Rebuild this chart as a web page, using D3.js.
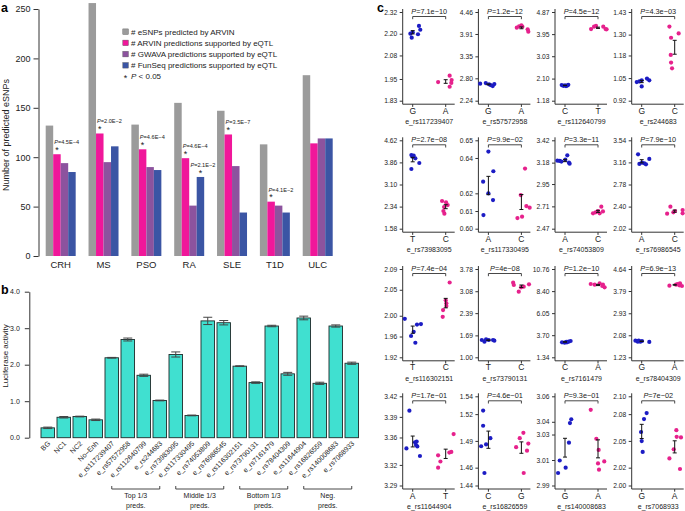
<!DOCTYPE html>
<html><head><meta charset="utf-8">
<script src="https://cdn.jsdelivr.net/npm/d3@7"></script>
<style>
body{margin:0;background:#fff;}
svg{display:block;font-family:"Liberation Sans",Arial,Helvetica,sans-serif;}
</style></head><body>
<svg id="chart" width="685" height="511"></svg>
<script>
// ---------------- Panel a data ----------------
const aGroups = ["CRH","MS","PSO","RA","SLE","T1D","ULC"];
const aSeriesNames = ["# eSNPs predicted by ARVIN","# ARVIN predictions supported by eQTL","# GWAVA predictions supported by eQTL","# FunSeq predictions supported by eQTL"];
const aArvinPred  = [132,256,133,155,147,113,183];
const aArvinEqtl  = [103,124,108, 99,123, 55,114];
const aGwavaEqtl  = [ 94, 95, 90, 51, 91, 51,119];
const aFunseqEqtl = [ 85,111, 87, 80, 44, 44,119];
const aYTicks = [0,50,100,150,200,250];
const aSignif = [
  {group:"CRH", series:1, p:"4.5E\u22124"},
  {group:"MS",  series:1, p:"2.0E\u22122"},
  {group:"PSO", series:1, p:"4.6E\u22124"},
  {group:"RA",  series:1, p:"4.6E\u22124"},
  {group:"RA",  series:3, p:"2.1E\u22122"},
  {group:"SLE", series:1, p:"3.5E\u22127"},
  {group:"T1D", series:1, p:"4.1E\u22122"}
];

// ---------------- Panel b data ----------------
const bLabels = ["BG","NC1","NC2","No\u2013Enh","e_rs117239407","e_rs57572958","e_rs112640799","e_rs244683",
  "e_rs73983095","e_rs117330495","e_rs74053809","e_rs76986545","e_rs116302151","e_rs73790131","e_rs7161479",
  "e_rs78404309","e_rs11644904","e_rs16826559","e_rs140008683","e_rs7068933"];
const bMeans  = [0.27,0.56,0.58,0.49,2.19,2.69,1.71,1.02,2.28,0.61,3.20,3.15,1.96,1.51,3.06,1.75,3.28,1.49,3.06,2.04];
const bErrors = [0.02,0.02,0.01,0.02,0.01,0.04,0.03,0.01,0.07,0.01,0.10,0.06,0.01,0.02,0.02,0.04,0.05,0.03,0.03,0.03];
const bYTicks = [0,1,2,3,4];
const bGroups = [
  {lines:["Top 1/3","preds."],    from:"e_rs117239407", to:"e_rs244683"},
  {lines:["Middle 1/3","preds."], from:"e_rs73983095",  to:"e_rs76986545"},
  {lines:["Bottom 1/3","preds."], from:"e_rs116302151", to:"e_rs78404309"},
  {lines:["Neg.","preds."],       from:"e_rs11644904",  to:"e_rs7068933"}
];

// ---------------- Panel c data ----------------
const cSnps = ["e_rs117239407","e_rs57572958","e_rs112640799","e_rs244683","e_rs73983095","e_rs117330495",
  "e_rs74053809","e_rs76986545","e_rs116302151","e_rs73790131","e_rs7161479","e_rs78404309",
  "e_rs11644904","e_rs16826559","e_rs140008683","e_rs7068933"];
const cAlleles = [["G","A"],["G","A"],["C","T"],["G","C"],["T","C"],["A","C"],["A","C"],["A","C"],
  ["T","C"],["T","C"],["C","A"],["G","A"],["A","T"],["C","G"],["G","A"],["G","A"]];
const cPvals = ["7.1e\u221210","1.2e\u221212","4.5e\u221212","4.3e\u221203","2.7e\u221208","9.9e\u221202",
  "3.3e\u221211","7.9e\u221210","7.4e\u221204","4e\u221208","1.2e\u221210","6.9e\u221213",
  "1.7e\u221201","4.6e\u221201","9.3e\u221201","7e\u221202"];
const cTicks = [
  [1.83,1.95,2.08,2.20,2.32],[2.24,2.80,3.35,3.91,4.46],[1.18,2.10,3.03,3.95,4.87],[0.92,1.05,1.18,1.30,1.43],
  [1.58,2.34,3.10,3.86,4.62],[0.60,0.61,0.62,0.64,0.65],[2.47,2.71,2.95,3.18,3.42],[2.02,2.40,2.78,3.16,3.54],
  [1.92,1.96,2.00,2.05,2.09],[1.00,1.69,2.39,3.08,3.78],[1.34,3.70,6.05,8.40,10.76],[1.23,2.08,2.93,3.79,4.64],
  [3.29,3.32,3.36,3.39,3.42],[1.44,1.46,1.49,1.52,1.54],[2.99,3.01,3.03,3.04,3.06],[2.00,2.02,2.05,2.08,2.10]
];
// first-allele values and x-jitter (fraction of allele spacing)
const cRefVals = [
  [2.200,2.178,2.208,2.197,2.243,2.222],
  [2.666,2.682,2.649,2.632,2.607,2.655],
  [1.83,1.80,1.82,1.79,1.81,1.84],
  [1.027,1.031,1.037,1.002,1.047,1.037],
  [4.115,4.058,4.092,4.000,3.840,3.633],
  [0.6436,0.6325,0.6266,0.6200,0.6162,0.6077],
  [3.201,3.198,3.191,3.212,3.259,3.180,3.169],
  [3.299,3.133,3.156,3.144,3.127,3.219],
  [1.994,1.961,1.969,1.948,1.983,1.984],
  [1.545,1.493,1.567,1.545,1.545,1.524],
  [2.94,2.90,2.94,3.01,3.08,3.00],
  [1.873,1.835,1.835,1.860,1.822,1.873],
  [3.344,3.399,3.353,3.354,3.347,3.333,3.349],
  [1.524,1.507,1.484,1.486,1.493,1.454],
  [2.9998,3.0096,3.0040,3.0236,3.0390,3.0420],
  [2.0745,2.0812,2.0600,2.0498,2.0376]
];
const cRefJitter = [
  [-0.07,-0.03,0,0.16,0.19,0.23],
  [-0.25,-0.08,0.02,0.07,0.13,0.18],
  [-0.1,-0.05,0,0.03,0.07,0.1],
  [-0.15,-0.07,0,0,0.16,0.23],
  [-0.04,-0.01,0.03,0.08,0.2,-0.04],
  [0,0.15,-0.16,0,0.14,-0.15],
  [-0.23,-0.16,-0.11,0.01,0.07,0.12,0.14],
  [-0.11,-0.07,0.01,0.08,0.13,0.23],
  [-0.24,-0.05,0.03,0.08,0.13,0.25],
  [-0.2,-0.12,-0.07,0.01,0.14,0.18],
  [-0.09,-0.01,0.06,0.11,0.17,0.04],
  [-0.19,-0.12,-0.04,0.01,0.23,-0.09],
  [-0.19,-0.1,0.07,0.12,0.14,0.22,0.1],
  [-0.16,-0.16,-0.22,-0.07,0.06,-0.12],
  [-0.21,-0.16,0.02,0.12,0.15,0.19],
  [0.07,0.15,-0.02,0,0.03]
];
// second-allele values and x-jitter
const cAltVals = [
  [1.933,1.968,1.944,1.928,1.907],
  [4.068,4.101,4.126,4.093,4.026,3.968],
  [4.16,4.26,4.29,4.26,4.16,4.15],
  [1.346,1.282,1.183,1.139,1.106,1.307],
  [2.532,2.486,2.394,2.326,2.188,2.096],
  [0.634,0.619,0.6128,0.6119,0.606,0.6068],
  [2.635,2.646,2.660,2.635,2.707,2.656],
  [2.278,2.399,2.301,2.324,2.341,2.284],
  [1.998,2.011,2.030,2.024,2.019,2.064],
  [3.350,3.276,3.067,3.203,3.224,3.297],
  [9.16,9.09,9.23,9.09,8.80,8.95],
  [3.997,4.035,4.061,4.010,4.087,3.984],
  [3.334,3.325,3.316,3.338,3.339,3.365],
  [1.493,1.499,1.483,1.479,1.487,1.454],
  [3.0494,3.0267,3.0179,3.0073,3.0024,3.0089],
  [2.0303,2.0406,2.0620,2.0546,2.0185,2.0539]
];
const cAltJitter = [
  [-0.23,0.12,0.18,0.17,0.12],
  [-0.14,-0.07,0,0.03,0.19,0.21],
  [-0.21,-0.12,-0.06,0.16,0.23,0.26],
  [-0.16,-0.11,-0.12,-0.11,-0.08,0.12],
  [-0.11,0.01,0.06,-0.05,-0.07,-0.04],
  [0.11,-0.02,0.15,0.25,-0.12,0.02],
  [-0.15,-0.07,0,0.05,0.1,0.15],
  [-0.23,-0.13,-0.04,0.01,0.24,0.24],
  [-0.09,-0.08,0,0.02,0.02,0.12],
  [-0.25,-0.23,-0.08,-0.01,0.07,0.23],
  [-0.22,-0.1,0.05,0.15,0.2,0.13],
  [-0.16,0.04,0.09,0.14,0.16,0.22],
  [-0.23,-0.16,-0.23,0.11,0.17,0.24],
  [-0.05,0.06,-0.16,0.17,0.21,0.07],
  [-0.22,-0.05,0.02,0,0.03,0.19],
  [-0.16,-0.03,0.05,0.06,0.16,0.19]
];

// ---------------- styles ----------------
const aColors = ["#9b9b9b","#f0179a","#8c539e","#3b55a4"];
const bFill = "#40e0d0";
const cColors = ["#1c1cc4","#e6218c"];
const axisColor = "#333";
const textColor = "#222";

const svg = d3.select("#chart");

function styleAxis(g, fs){
  g.selectAll(".domain").attr("stroke", axisColor);
  g.selectAll(".tick line").attr("stroke", axisColor);
  g.selectAll(".tick text").attr("fill", textColor).style("font-size", fs+"px")
    .style("font-family","'Liberation Sans',Arial,sans-serif");
}

// ================= Panel a =================
const ga = svg.append("g");
const ax = d3.scaleBand().domain(aGroups).range([45.7, 332.7]).paddingInner(0.3).paddingOuter(0);
const axIn = d3.scaleBand().domain(d3.range(4)).range([0, ax.bandwidth()]);
const ay = d3.scaleLinear().domain([0,250]).range([256, 9]);
const aData = [aArvinPred, aArvinEqtl, aGwavaEqtl, aFunseqEqtl];

aGroups.forEach((g, gi) => {
  aData.forEach((s, si) => {
    ga.append("rect")
      .attr("x", ax(g) + axIn(si)).attr("y", ay(s[gi]))
      .attr("width", axIn.bandwidth()).attr("height", ay(0) - ay(s[gi]))
      .attr("fill", aColors[si]);
  });
  ga.append("text").attr("x", ax(g) + ax.bandwidth()/2).attr("y", 267.5)
    .attr("text-anchor","middle").attr("fill", textColor).style("font-size","9.5px").text(g);
});

const aAxisG = ga.append("g").attr("transform","translate(38.5,0)")
  .call(d3.axisLeft(ay).tickValues(aYTicks).tickSize(5).tickSizeOuter(0).tickPadding(3));
styleAxis(aAxisG, 9);

ga.append("text").attr("transform","translate(9,135) rotate(-90)").attr("text-anchor","middle")
  .attr("fill", textColor).style("font-size","9px").text("Number of predicted eSNPs");

// significance annotations
aSignif.forEach(d => {
  const gi = aGroups.indexOf(d.group);
  const v = aData[d.series][gi];
  const bx0 = ax(d.group) + axIn(d.series);
  const cx = bx0 + axIn.bandwidth()/2;
  const top = ay(v);
  ga.append("text").attr("x", cx).attr("y", top - 5.5 + 4.3).attr("text-anchor","middle")
    .attr("fill", textColor).style("font-size","9px").text("*");
  const lx = d.series === 1 ? bx0 + 1 : cx - 10;
  const t = ga.append("text").attr("x", lx).attr("y", top - 12 + 2)
    .attr("fill", textColor).style("font-size","5.6px");
  t.append("tspan").style("font-style","italic").text("P");
  t.append("tspan").text("=" + d.p);
});

// legend
const legY0 = 31.7, legStep = 11.2;
aSeriesNames.forEach((n, i) => {
  const y = legY0 + i*legStep;
  ga.append("rect").attr("x", 122.8).attr("y", y - 2.8).attr("width", 5.6).attr("height", 5.6)
    .attr("fill", aColors[i]).attr("stroke","#555").attr("stroke-width",0.4);
  ga.append("text").attr("x", 131).attr("y", y + 2.8).attr("fill", textColor)
    .style("font-size","8px").text(n);
});
{
  const y = legY0 + 4*legStep;
  ga.append("text").attr("x", 125.6).attr("y", y + 4.3).attr("text-anchor","middle")
    .attr("fill", textColor).style("font-size","9px").text("*");
  const t = ga.append("text").attr("x", 131).attr("y", y + 2.8).attr("fill", textColor).style("font-size","8px");
  t.append("tspan").style("font-style","italic").text("P");
  t.append("tspan").text(" < 0.05");
}

// ================= Panel b =================
const gb = svg.append("g");
const bx = d3.scaleBand().domain(bLabels).range([41, 358.5]).paddingInner(0.156).paddingOuter(0);
const by = d3.scaleLinear().domain([0,4]).range([437.7, 291.7]);

bLabels.forEach((l, i) => {
  gb.append("rect").attr("x", bx(l)).attr("y", by(bMeans[i]))
    .attr("width", bx.bandwidth()).attr("height", by(0) - by(bMeans[i]))
    .attr("fill", bFill).attr("stroke","#1d2b2a").attr("stroke-width",0.9);
});
bLabels.forEach((l, i) => {
  const cx = bx(l) + bx.bandwidth()/2;
  const y1 = by(bMeans[i] - bErrors[i]), y2 = by(bMeans[i] + bErrors[i]);
  gb.append("line").attr("x1", cx).attr("x2", cx).attr("y1", y1).attr("y2", y2)
    .attr("stroke","#444").attr("stroke-width",1);
  [y1, y2].forEach(yy => gb.append("line").attr("x1", cx - 4.5).attr("x2", cx + 4.5)
    .attr("y1", yy).attr("y2", yy).attr("stroke","#444").attr("stroke-width",1));
  gb.append("text").attr("transform", `translate(${cx + 3},${444}) rotate(-45)`)
    .attr("text-anchor","end").attr("fill", textColor).style("font-size","7px").text(l);
});

const bAxisG = gb.append("g").attr("transform","translate(29.3,0)")
  .call(d3.axisLeft(by).tickValues(bYTicks).tickSize(4.5).tickSizeOuter(0).tickPadding(5));
styleAxis(bAxisG, 7);

gb.append("text").attr("transform","translate(8,356) rotate(-90)").attr("text-anchor","middle")
  .attr("fill", textColor).style("font-size","8px").text("Luciferase activity");

bGroups.forEach(g => {
  const x1 = bx(g.from) + bx.bandwidth()/2, x2 = bx(g.to) + bx.bandwidth()/2;
  const yb = 489;
  gb.append("path").attr("d", `M${x1},${yb-3}V${yb}H${x2}V${yb-3}`)
    .attr("fill","none").attr("stroke", axisColor).attr("stroke-width",0.9);
  g.lines.forEach((ln, k) => {
    gb.append("text").attr("x", (x1 + x2)/2).attr("y", 498.2 + k*10.1).attr("text-anchor","middle")
      .attr("fill", textColor).style("font-size","7px").text(ln);
  });
});

// ================= Panel c =================
const gc = svg.append("g");
const cRowTop = [12, 140.3, 269, 396.3];
const cRowBot = [100.7, 228.7, 357.3, 485.5];
const cColAxis = [402.7, 478.4, 555, 631.7];

cSnps.forEach((snp, i) => {
  const r = Math.floor(i/4), c = i % 4;
  const top = cRowTop[r], bot = cRowBot[r], axX = cColAxis[c];
  const ticks = cTicks[i];
  const y = d3.scaleLinear().domain(d3.extent(ticks)).range([bot, top]);
  const x = d3.scalePoint().domain(cAlleles[i]).range([axX + 10, axX + 43]);
  const step = x(cAlleles[i][1]) - x(cAlleles[i][0]);
  const g = gc.append("g");

  // axes
  const yAx = g.append("g").attr("transform", `translate(${axX},0)`)
    .call(d3.axisLeft(y).tickValues(ticks).tickFormat(d3.format(".2f")).tickSize(3).tickSizeOuter(0).tickPadding(2.5));
  yAx.select(".domain").remove();
  styleAxis(yAx, 6.7);
  const yb = bot + 3.5;
  g.append("line").attr("x1", axX).attr("x2", axX).attr("y1", top - 3).attr("y2", yb)
    .attr("stroke", axisColor).attr("stroke-width", 1);
  g.append("line").attr("x1", axX).attr("x2", axX + 52).attr("y1", yb).attr("y2", yb)
    .attr("stroke", axisColor).attr("stroke-width", 1);
  cAlleles[i].forEach(a => {
    g.append("line").attr("x1", x(a)).attr("x2", x(a)).attr("y1", yb).attr("y2", yb + 2.7)
      .attr("stroke", axisColor).attr("stroke-width", 1);
    g.append("text").attr("x", x(a)).attr("y", bot + 13.1).attr("text-anchor","middle")
      .attr("fill", textColor).style("font-size","8.5px").text(a);
  });
  g.append("text").attr("x", axX + 26.5).attr("y", bot + 23.6).attr("text-anchor","middle")
    .attr("fill", textColor).style("font-size","7px").text(snp);

  // bracket + P
  const xa = x(cAlleles[i][0]), xb = x(cAlleles[i][1]);
  const byk = top + 4.5;
  g.append("path").attr("d", `M${xa},${byk+2.7}V${byk}H${xb}V${byk+2.7}`)
    .attr("fill","none").attr("stroke", axisColor).attr("stroke-width", 0.9);
  const t = g.append("text").attr("x", (xa + xb)/2).attr("y", top + 1.9).attr("text-anchor","middle")
    .attr("fill", textColor).style("font-size","7.3px");
  t.append("tspan").style("font-style","italic").text("P");
  t.append("tspan").text("=" + cPvals[i]);

  // points
  const groups = [[cRefVals[i], cRefJitter[i]], [cAltVals[i], cAltJitter[i]]];
  groups.forEach(([vals, jit], k) => {
    const cx0 = x(cAlleles[i][k]);
    vals.forEach((v, j) => {
      g.append("circle").attr("cx", cx0 + jit[j]*step).attr("cy", y(v)).attr("r", 2.1)
        .attr("fill", cColors[k]);
    });
  });
  // mean +/- SE
  groups.forEach(([vals], k) => {
    const cx0 = x(cAlleles[i][k]);
    const m = d3.mean(vals), se = d3.deviation(vals) / Math.sqrt(vals.length);
    const y1 = y(m - se), y2 = y(m + se);
    g.append("line").attr("x1", cx0).attr("x2", cx0).attr("y1", y1).attr("y2", y2)
      .attr("stroke","#111").attr("stroke-width",1);
    [y1, y2].forEach(yy => g.append("line").attr("x1", cx0 - 2).attr("x2", cx0 + 2)
      .attr("y1", yy).attr("y2", yy).attr("stroke","#111").attr("stroke-width",1));
  });
});

// panel letters
[["a",1,11.8],["b",1,294],["c",377,11.8]].forEach(([l, x, y]) => {
  svg.append("text").attr("x", x).attr("y", y).attr("fill","#000")
    .style("font-size","12.5px").style("font-weight","bold").text(l);
});
</script>
</body></html>
